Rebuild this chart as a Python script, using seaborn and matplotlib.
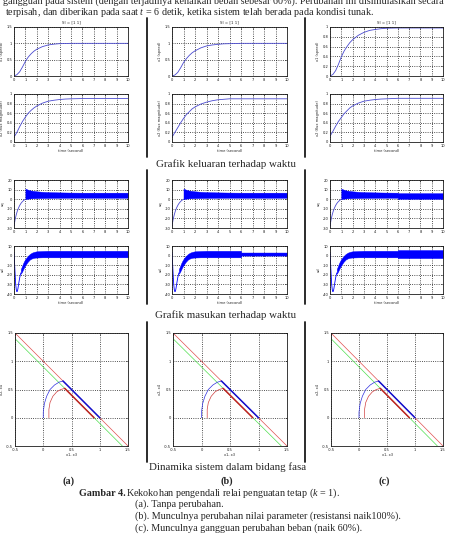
import matplotlib
matplotlib.use("Agg")
import matplotlib.pyplot as plt
from matplotlib.lines import Line2D
import seaborn as sns

# ---- output responses (row 1) ----
t_out = [0, 0.25, 0.5, 0.75, 1, 1.25, 1.5, 1.75, 2, 2.5, 3, 3.5, 4, 4.5, 5, 6, 7, 8, 9, 10]
x1_a = [0, 0.04, 0.13, 0.28, 0.45, 0.58, 0.68, 0.76, 0.82, 0.9, 0.95, 0.975, 0.99, 0.995, 1.0, 1.0, 1.0, 1.0, 1.0, 1.0]
x1_b = [0, 0.03, 0.11, 0.25, 0.41, 0.53, 0.63, 0.71, 0.77, 0.86, 0.92, 0.95, 0.97, 0.985, 0.99, 1.0, 1.0, 1.0, 1.0, 1.0]
x1_c = [0, 0.03, 0.11, 0.24, 0.39, 0.51, 0.6, 0.68, 0.74, 0.83, 0.89, 0.93, 0.95, 0.965, 0.975, 0.98, 0.98, 0.98, 0.98, 0.98]
x2_a = [0.1, 0.2, 0.32, 0.43, 0.52, 0.6, 0.66, 0.71, 0.75, 0.81, 0.85, 0.87, 0.885, 0.895, 0.9, 0.905, 0.905, 0.905, 0.905, 0.905]
x2_b = [0.1, 0.2, 0.3, 0.4, 0.49, 0.57, 0.63, 0.69, 0.73, 0.79, 0.83, 0.86, 0.88, 0.89, 0.9, 0.9, 0.9, 0.9, 0.9, 0.9]
x2_c = [0.12, 0.22, 0.33, 0.43, 0.51, 0.59, 0.65, 0.71, 0.75, 0.81, 0.85, 0.87, 0.885, 0.895, 0.9, 0.91, 0.91, 0.91, 0.91, 0.91]

# ---- control inputs (row 2) ----
t_uq = [0, 0.1, 0.2, 0.3, 0.4, 0.5, 0.6, 0.7, 0.8, 0.9, 1.0]
uq_init = [-28, -21, -16, -12, -9, -6.5, -4.5, -3, -1.8, -0.8, 0]
t_uq_band = [1.0, 1.2, 1.5, 2, 2.5, 3, 4, 5, 6, 6, 7, 8, 9, 10]
uq_hi_a = [11, 10, 9, 8.2, 7.7, 7.4, 7.1, 6.9, 6.8, 6.8, 6.8, 6.8, 6.8, 6.8]
uq_lo_a = [0, 0.5, 0.9, 1.1, 1.2, 1.3, 1.4, 1.5, 1.5, 1.5, 1.5, 1.5, 1.5, 1.5]
uq_hi_c = [11, 10, 9, 8.2, 7.7, 7.4, 7.1, 6.9, 6.8, 6.3, 6.3, 6.3, 6.3, 6.3]
uq_lo_c = [0, 0.5, 0.9, 1.1, 1.2, 1.3, 1.4, 1.5, 1.5, 0.4, 0.4, 0.4, 0.4, 0.4]

t_ud = [0, 0.05, 0.1, 0.15, 0.2, 0.25, 0.3, 0.35, 0.4, 0.5, 0.6]
ud_init = [3, -8, -20, -30, -35.5, -37.5, -37, -34, -30, -23, -18]
t_ud_band = [0.6, 0.7, 0.8, 0.9, 1.0, 1.2, 1.4, 1.6, 1.8, 2, 2.5, 3, 4, 5, 6, 6, 7, 8, 9, 10]
ud_hi_a = [-14, -11, -8, -5.5, -3.5, -0.5, 1.8, 3.2, 4, 4.5, 4.8, 5, 5, 5, 5, 5, 5, 5, 5, 5]
ud_lo_a = [-19, -17, -14.5, -12, -10, -6.5, -4, -2.8, -2.2, -2, -1.8, -1.8, -1.8, -1.8, -1.8, -1.8, -1.8, -1.8, -1.8, -1.8]
ud_hi_b = [-14, -11, -8, -5.5, -3.5, -0.5, 1.8, 3.2, 4, 4.5, 4.8, 5, 5, 5, 5, 3.2, 3.2, 3.2, 3.2, 3.2]
ud_lo_b = [-19, -17, -14.5, -12, -10, -6.5, -4, -2.8, -2.2, -2, -1.8, -1.8, -1.8, -1.8, -1.8, 0, 0, 0, 0, 0]
ud_hi_c = [-14, -11, -8, -5.5, -3.5, -0.5, 1.8, 3.2, 4, 4.5, 4.8, 5, 5, 5, 5, 5.8, 5.8, 5.8, 5.8, 5.8]
ud_lo_c = [-19, -17, -14.5, -12, -10, -6.5, -4, -2.8, -2.2, -2, -1.8, -1.8, -1.8, -1.8, -1.8, -2.6, -2.6, -2.6, -2.6, -2.6]

# ---- phase plane (row 3) ----
surf_x = [-0.5, 1.5]
surf_y = [1.5, -0.5]
surf2_x = [-0.5, 1.4]
surf2_y = [1.4, -0.5]
traj_blue_x = [0, 0, 0.02, 0.06, 0.12, 0.2, 0.28, 0.35, 1.0]
traj_blue_y = [0, 0.1, 0.25, 0.38, 0.5, 0.58, 0.63, 0.65, 0.0]
traj_red_x = [0.1, 0.1, 0.12, 0.17, 0.24, 0.31, 0.38, 0.9]
traj_red_y = [0, 0.15, 0.27, 0.38, 0.46, 0.5, 0.52, 0.0]

time_ticks = list(range(11))
phase_ticks = [-0.5, 0, 0.5, 1, 1.5]

sns.set_theme(style="white")
plt.rcParams["font.family"] = ["Liberation Serif", "DejaVu Serif"]
plt.rcParams["mathtext.fontset"] = "custom"
plt.rcParams["mathtext.rm"] = "Liberation Serif"
plt.rcParams["mathtext.it"] = "Liberation Serif:italic"

W, H = 450, 539
fig = plt.figure(figsize=(4.5, 5.39), dpi=100)
fig.patch.set_facecolor("white")


def box(l, t, r, b):
    return [l / W, 1 - b / H, (r - l) / W, (b - t) / H]


def style(ax, xlim, xticks, ylim, yticks, ylabel, xlabel=None, title=None):
    ax.set_xlim(xlim)
    ax.set_ylim(ylim)
    ax.set_xticks(xticks)
    ax.set_yticks(yticks)
    ax.set_xticklabels([("%g" % v) for v in xticks], family="DejaVu Sans")
    ax.set_yticklabels([("%g" % v) for v in yticks], family="DejaVu Sans")
    ax.tick_params(direction="in", length=1.2, width=0.4, pad=1.2, labelsize=2.6,
                   top=True, right=True, colors="k")
    ax.grid(True, color="0.1", ls=":", lw=0.6)
    for s in ax.spines.values():
        s.set_linewidth(0.6)
        s.set_color("k")
    ax.set_ylabel(ylabel, fontsize=2.6, family="DejaVu Sans", labelpad=1.5)
    if xlabel:
        ax.set_xlabel(xlabel, fontsize=2.6, family="DejaVu Sans", labelpad=1.2)
    else:
        ax.set_xlabel("")
    if title:
        ax.set_title(title, fontsize=2.8, family="DejaVu Sans", pad=2.5)


cols = [(14, 128), (172, 287), (330, 443)]
x1_all = [x1_a, x1_b, x1_c]
x2_all = [x2_a, x2_b, x2_c]
uq_hi_all = [uq_hi_a, uq_hi_a, uq_hi_c]
uq_lo_all = [uq_lo_a, uq_lo_a, uq_lo_c]
ud_hi_all = [ud_hi_a, ud_hi_b, ud_hi_c]
ud_lo_all = [ud_lo_a, ud_lo_b, ud_lo_c]
curve_c = "#4a4ad0"
band_c = "#0000ff"

for i, (l, r) in enumerate(cols):
    # speed
    ax = fig.add_axes(box(l, 27, r, 76))
    sns.lineplot(x=t_out, y=x1_all[i], ax=ax, color=curve_c, lw=0.6, estimator=None, sort=False)
    if i < 2:
        style(ax, (0, 10), time_ticks, (0, 1.5), [0, 0.5, 1, 1.5], "x1 (speed)", title="SI = [1 1]")
    else:
        style(ax, (0, 10), time_ticks, (0, 1), [0, 0.2, 0.4, 0.6, 0.8, 1], "x1 (speed)", title="SI = [1 1]")
    # flux
    ax = fig.add_axes(box(l, 94, r, 142))
    sns.lineplot(x=t_out, y=x2_all[i], ax=ax, color=curve_c, lw=0.6, estimator=None, sort=False)
    style(ax, (0, 10), time_ticks, (0, 1), [0, 0.2, 0.4, 0.6, 0.8, 1], "x2 (flux magnitude)",
          xlabel="time (second)")

    # uq
    ax = fig.add_axes(box(l, 180, r, 228))
    sns.lineplot(x=t_uq, y=uq_init, ax=ax, color=curve_c, lw=0.6, estimator=None, sort=False)
    ax.fill_between(t_uq_band, uq_lo_all[i], uq_hi_all[i], color=band_c, lw=0.3)
    style(ax, (0, 10), time_ticks, (-30, 20), [-30, -20, -10, 0, 10, 20], "uq")
    # ud
    ax = fig.add_axes(box(l, 246, r, 294))
    sns.lineplot(x=t_ud, y=ud_init, ax=ax, color=band_c, lw=0.6, estimator=None, sort=False)
    ax.fill_between(t_ud_band, ud_lo_all[i], ud_hi_all[i], color=band_c, lw=0.3)
    style(ax, (0, 10), time_ticks, (-40, 10), [-40, -30, -20, -10, 0, 10], "ud",
          xlabel="time (second)")

    # phase plane
    ax = fig.add_axes(box(l + 1, 333, r, 446))
    sns.lineplot(x=surf_x, y=surf_y, ax=ax, color="#e05050", lw=0.5, estimator=None, sort=False)
    sns.lineplot(x=surf2_x, y=surf2_y, ax=ax, color="#50e050", lw=0.5, estimator=None, sort=False)
    sns.lineplot(x=traj_blue_x[:8], y=traj_blue_y[:8], ax=ax, color="#3030e0", lw=0.5,
                 estimator=None, sort=False)
    sns.lineplot(x=traj_blue_x[7:], y=traj_blue_y[7:], ax=ax, color="#1010d0", lw=1.1,
                 estimator=None, sort=False)
    sns.lineplot(x=traj_red_x[:7], y=traj_red_y[:7], ax=ax, color="#d04040", lw=0.5,
                 estimator=None, sort=False)
    sns.lineplot(x=traj_red_x[6:], y=traj_red_y[6:], ax=ax, color="#c02020", lw=1.1,
                 estimator=None, sort=False)
    style(ax, (-0.5, 1.5), phase_ticks, (-0.5, 1.5), phase_ticks, "x2, x4", xlabel="x1, x3")

# vertical separators
for x in (147, 305):
    for y0, y1 in ((18, 157), (170, 304), (322, 462)):
        fig.add_artist(Line2D([x / W, x / W], [1 - y0 / H, 1 - y1 / H], color="k", lw=1.3,
                              transform=fig.transFigure))


def ptext(x, y, s, **kw):
    kw.setdefault("fontsize", 7.3)
    kw.setdefault("va", "center")
    fig.text(x / W, 1 - y / H, s, **kw)


ptext(3, 1, "gangguan pada sistem (dengan terjadinya kenaikan beban sebesar 60%). Perubahan ini disimulasikan secara")
ptext(5, 12.5, "terpisah, dan diberikan pada saat $t$ = 6 detik, ketika sistem telah berada pada kondisi tunak.")
ptext(226, 164, "Grafik keluaran terhadap waktu", ha="center", fontsize=7.8)
ptext(226, 315, "Grafik masukan terhadap waktu", ha="center", fontsize=7.8)
ptext(228, 467, "Dinamika sistem dalam bidang fasa", ha="center", fontsize=7.8)
for x, s in ((69, "(a)"), (227, "(b)"), (384, "(c)")):
    ptext(x, 481, s, ha="center", weight="bold")
ptext(79, 493, "Gambar 4.", weight="bold")
ptext(126, 493, "Kekokohan pengendali relai penguatan tetap ($k$ = 1).")
ptext(135, 504, "(a). Tanpa perubahan.")
ptext(135, 516, "(b). Munculnya perubahan nilai parameter (resistansi naik100%).")
ptext(135, 528, "(c). Munculnya gangguan perubahan beban (naik 60%).")

fig.savefig("out.png", dpi=100, facecolor="white")
